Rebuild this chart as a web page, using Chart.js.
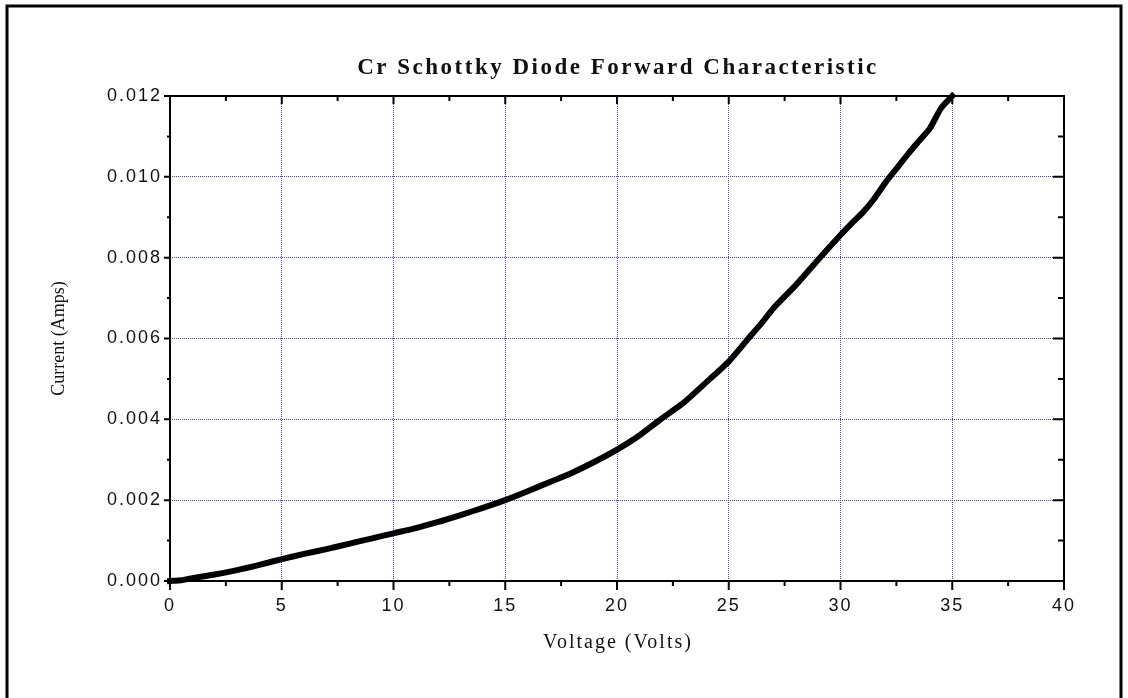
<!DOCTYPE html>
<html>
<head>
<meta charset="utf-8">
<script src="https://cdn.jsdelivr.net/npm/chart.js@4"></script>
<style>
  html, body { margin: 0; padding: 0; background: #fff; }
  #wrap { width: 1128px; height: 698px; position: relative; }
</style>
</head>
<body>
<div id="wrap"><canvas id="ivCurve"></canvas></div>
<script>
// forward bias sweep, volts and amps
const voltage = [0, 0.5, 1, 2, 3, 4, 5, 6, 7, 8, 9, 10, 11, 12, 13, 14, 15, 16, 17, 18, 19, 20,
  21, 22, 23, 24, 25, 25.5, 26, 26.5, 27, 28, 29, 30, 30.5, 31, 31.5, 32, 32.5, 33, 33.5, 34, 34.5, 35];
const current = [0, 0.00002, 0.00007, 0.00016, 0.00027, 0.00040, 0.00054, 0.00067, 0.00079, 0.00092,
  0.00105, 0.00118, 0.00131, 0.00146, 0.00163, 0.00181, 0.00200, 0.00222, 0.00245, 0.00268, 0.00295,
  0.00325, 0.00360, 0.00402, 0.00442, 0.00492, 0.00543, 0.00575, 0.00608, 0.00640, 0.00675, 0.00732,
  0.00795, 0.00856, 0.00885, 0.00912, 0.00945, 0.00985, 0.01020, 0.01055, 0.01088, 0.01120, 0.01170, 0.01200];

const xTicks = [0, 5, 10, 15, 20, 25, 30, 35, 40];
const yTicks = [0, 0.002, 0.004, 0.006, 0.008, 0.010, 0.012];

const titleText = 'Cr Schottky Diode Forward Characteristic';
const xTitle = 'Voltage (Volts)';
const yTitle = 'Current (Amps)';

const points = voltage.map((v, i) => ({ x: v, y: current[i] }));

// spaced-out lettering for the tick labels
const spacingPlugin = {
  id: 'spacing',
  beforeDraw(chart) {
    chart.ctx.letterSpacing = '2px';
  }
};

// plot frame, tick marks, titles and the outer border
const framePlugin = {
  id: 'frame',
  afterDraw(chart) {
    const { ctx, chartArea: a, scales: { x, y } } = chart;
    ctx.save();
    ctx.letterSpacing = '0px';
    ctx.strokeStyle = '#000';
    ctx.lineWidth = 2;
    ctx.strokeRect(a.left, a.top, a.right - a.left, a.bottom - a.top);

    ctx.beginPath();
    for (let v = 0; v <= 40; v += 2.5) {
      const px = x.getPixelForValue(v);
      const major = v % 5 === 0;
      ctx.moveTo(px, a.bottom);
      ctx.lineTo(px, a.bottom + (major ? 9 : 5));
      ctx.moveTo(px, a.top);
      ctx.lineTo(px, a.top + (major ? 8 : 5));
    }
    for (let k = 0; k <= 12; k++) {
      const py = y.getPixelForValue(k * 0.001);
      const major = k % 2 === 0;
      ctx.moveTo(a.left, py);
      ctx.lineTo(a.left - (major ? 6 : 3), py);
      ctx.moveTo(a.right, py);
      ctx.lineTo(a.right - (major ? 11 : 6), py);
    }
    ctx.stroke();

    ctx.lineWidth = 3;
    ctx.strokeRect(7, 6, 1114, 700);

    const midX = (a.left + a.right) / 2;
    ctx.fillStyle = '#111';
    ctx.textAlign = 'center';
    ctx.textBaseline = 'alphabetic';

    ctx.font = 'bold 23px "Liberation Serif"';
    ctx.letterSpacing = '2.5px';
    ctx.fillText(titleText, midX + 1, 74);

    ctx.font = '20px "Liberation Serif"';
    ctx.letterSpacing = '2px';
    ctx.fillText(xTitle, midX + 1, 648);

    ctx.font = '18px "Liberation Serif"';
    ctx.letterSpacing = '0px';
    ctx.translate(64, (a.top + a.bottom) / 2);
    ctx.rotate(-Math.PI / 2);
    ctx.fillText(yTitle, 0, 0);
    ctx.restore();
  }
};

new Chart(document.getElementById('ivCurve'), {
  type: 'scatter',
  data: {
    datasets: [{
      data: points,
      showLine: true,
      borderColor: '#000',
      borderWidth: 6,
      borderCapStyle: 'square',
      borderJoinStyle: 'round',
      pointRadius: 0,
      tension: 0.2,
      clip: false
    }]
  },
  options: {
    responsive: true,
    maintainAspectRatio: false,
    animation: false,
    layout: { padding: { left: 0, right: 64, top: 96, bottom: 0 } },
    plugins: {
      legend: { display: false },
      tooltip: { enabled: false },
      title: { display: false }
    },
    scales: {
      x: {
        type: 'linear',
        min: 0,
        max: 40,
        afterBuildTicks(scale) { scale.ticks = xTicks.map(v => ({ value: v })); },
        afterFit(scale) { scale.height = 117; },
        border: { display: false, dash: [1, 1] },
        grid: { color: '#4040ff', lineWidth: 1, drawTicks: false },
        ticks: {
          color: '#111',
          padding: 14,
          font: { family: 'Liberation Sans', size: 18 },
          maxRotation: 0
        }
      },
      y: {
        type: 'linear',
        min: 0,
        max: 0.012,
        afterBuildTicks(scale) { scale.ticks = yTicks.map(v => ({ value: v })); },
        afterFit(scale) { scale.width = 170; },
        border: { display: false, dash: [1, 1] },
        grid: { color: '#4040ff', lineWidth: 1, drawTicks: false },
        ticks: {
          color: '#111',
          padding: 8,
          font: { family: 'Liberation Sans', size: 18 },
          callback: v => v.toFixed(3)
        }
      }
    }
  },
  plugins: [spacingPlugin, framePlugin]
});
</script>
</body>
</html>
